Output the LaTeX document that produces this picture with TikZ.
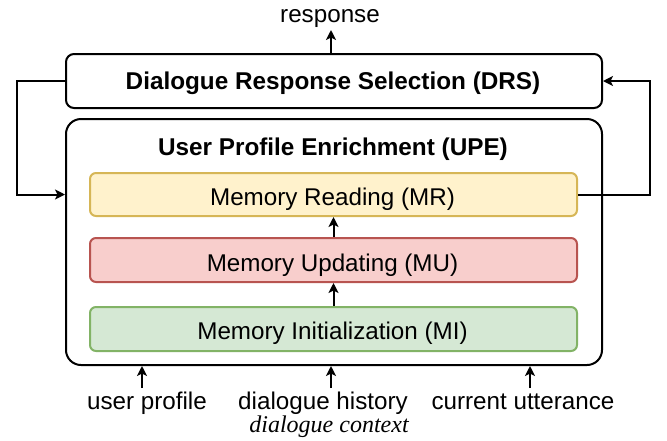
\documentclass[tikz,border=0pt]{standalone}
\usepackage{fontspec}
\setmainfont{Liberation Sans}
\newfontfamily\myserif{Liberation Serif}
\usetikzlibrary{arrows.meta}
\definecolor{ylwfill}{HTML}{FFF2CC}
\definecolor{ylwline}{HTML}{D6B656}
\definecolor{redfill}{HTML}{F8CECC}
\definecolor{redline}{HTML}{B85450}
\definecolor{grnfill}{HTML}{D5E8D4}
\definecolor{grnline}{HTML}{82B366}
\begin{document}
\begin{tikzpicture}[x=1pt,y=-1pt,
  bigbox/.style={draw, line width=2pt, inner sep=0pt, minimum width=536pt},
  membox/.style={line width=2pt, rounded corners=6pt, inner sep=0pt, minimum width=487pt, minimum height=44pt},
  arr/.style={line width=2pt, -{Stealth[length=10pt,width=10pt,inset=2.5pt]}},
  lbl/.style={font=\fontsize{24.2}{28}\selectfont, inner sep=0pt, anchor=base},
  ttl/.style={font=\fontsize{24.3}{28}\selectfont\bfseries, inner sep=0pt, anchor=base}]
\useasboundingbox (0,0) rectangle (667,440);

% boxes
\node[bigbox, rounded corners=8pt, minimum height=54pt] (drs) at (334,81) {};
\node[ttl] (drst) at (333,89.5) {Dialogue Response Selection (DRS)};
\node[bigbox, rounded corners=15pt, minimum height=246pt] (upe) at (334,242) {};
\node[ttl] (upet) at (333,155) {User Profile Enrichment (UPE)};

\node[membox, draw=ylwline, fill=ylwfill, minimum height=43pt] (mr) at (333.5,194.5) {};
\node[lbl] (mrt) at (332.5,205) {Memory Reading (MR)};
\node[membox, draw=redline, fill=redfill] (mu) at (333.5,260) {};
\node[lbl] (mut) at (332.5,271) {Memory Updating (MU)};
\node[membox, draw=grnline, fill=grnfill] (mi) at (333.5,329) {};
\node[lbl] (mit) at (332.5,339) {Memory Initialization (MI)};

% outside labels
\node[lbl] (resp) at (330,22) {response};
\node[lbl] (up) at (147,409) {user profile};
\node[lbl] (dh) at (323,409) {dialogue history};
\node[lbl] (cu) at (523,409) {current utterance};
\node[inner sep=0pt, anchor=base, font=\fontsize{24}{28}\selectfont\myserif\itshape] (dc) at (329,432) {dialogue context};

% connectors
\coordinate (rtop) at (331,30);
\draw[arr] (drs.north -| rtop) -- (rtop);
\draw[arr] (drs.west) -- (17,81) |- (upe.west |- mr.west);
\draw[arr] (mr.east) -- (650,194.5) |- (drs.east);
\draw[arr] (mi.north) -- (mu.south);
\draw[arr] (mu.north) -- (mr.south);

\coordinate (a1) at (142,388);
\coordinate (a2) at (331,388);
\coordinate (a3) at (530,388);
\draw[arr] (a1) -- (a1 |- upe.south);
\draw[arr] (a2) -- (a2 |- upe.south);
\draw[arr] (a3) -- (a3 |- upe.south);
\end{tikzpicture}
\end{document}
